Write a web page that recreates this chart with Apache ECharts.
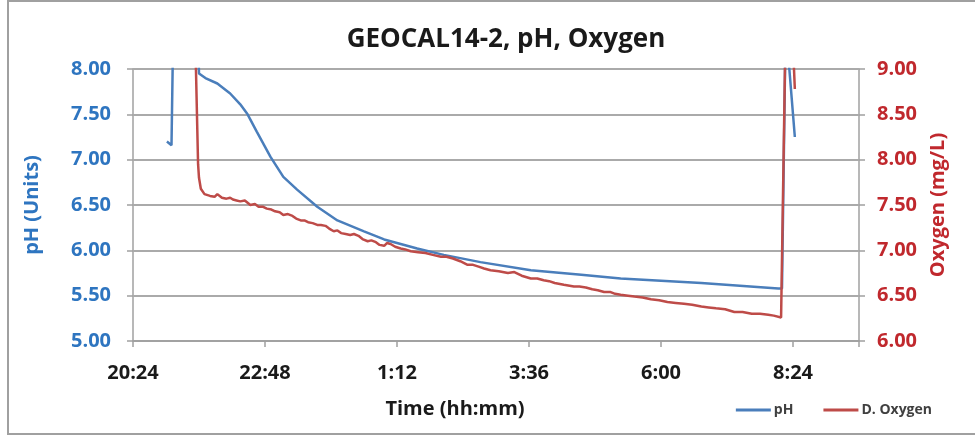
<!DOCTYPE html>
<html>
<head>
<meta charset="utf-8">
<script src="https://cdn.jsdelivr.net/npm/echarts@6/dist/echarts.min.js"></script>
<style>
html,body{margin:0;padding:0;background:#fff}
#wrap{position:relative;width:975px;height:439px}
#c{width:975px;height:439px}
#frame{position:absolute;left:7px;top:0;width:980px;height:435px;border:2px solid #a0a0a0;box-sizing:border-box;pointer-events:none}
</style>
</head>
<body>
<div id="wrap"><div id="c"></div><div id="frame"></div></div>
<script>
// pH series: clock time and value
const phTimes = ["21:01","21:06","21:07","21:09","21:33","21:36","21:43","21:56","22:10","22:21","22:29","22:39","22:54","23:08","23:23","23:45","0:07","0:36","0:58","1:34","2:03","2:43","3:38","4:33","5:16","6:44","8:08","8:12","8:16","8:26"];
const phValues = [7.20,7.16,7.18,9.2,9.2,7.95,7.90,7.84,7.73,7.61,7.50,7.31,7.03,6.81,6.67,6.48,6.33,6.21,6.12,6.02,5.95,5.87,5.78,5.73,5.69,5.64,5.58,5.58,8.5,7.25];

// Dissolved oxygen series: clock time and value (mg/L)
const doTimes = ["21:30","21:32","21:35","21:36","21:38","21:42","21:48","21:53","21:56","22:01","22:06","22:10","22:13","22:17","22:21","22:26","22:32","22:37","22:41","22:46","22:50","22:55","22:59","23:04","23:08","23:13","23:18","23:22","23:27","23:31","23:35","23:40","23:45","23:49","23:54","23:58","0:03","0:07","0:11","0:16","0:21","0:25","0:30","0:35","0:40","0:44","0:49","0:53","0:58","1:01","1:05","1:10","1:16","1:21","1:27","1:35","1:43","1:51","2:00","2:06","2:13","2:21","2:29","2:35","2:41","2:47","2:54","3:03","3:13","3:20","3:28","3:38","3:45","3:52","3:58","4:04","4:14","4:25","4:31","4:38","4:45","4:51","4:58","5:05","5:10","5:16","5:24","5:31","5:40","5:49","5:58","6:07","6:16","6:25","6:34","6:44","6:52","7:00","7:02","7:10","7:20","7:29","7:39","7:48","7:57","8:03","8:11","8:12","8:16","8:23","8:26"];
const doValues = [9.6,9.3,7.95,7.80,7.68,7.62,7.60,7.59,7.62,7.58,7.57,7.58,7.56,7.55,7.54,7.55,7.50,7.51,7.48,7.48,7.46,7.45,7.43,7.42,7.39,7.40,7.38,7.35,7.33,7.33,7.31,7.30,7.28,7.28,7.27,7.24,7.21,7.22,7.19,7.18,7.17,7.18,7.16,7.12,7.10,7.11,7.09,7.06,7.05,7.08,7.07,7.04,7.02,7.01,6.99,6.98,6.97,6.95,6.93,6.93,6.91,6.88,6.84,6.84,6.82,6.80,6.78,6.77,6.75,6.76,6.72,6.69,6.69,6.67,6.66,6.64,6.62,6.60,6.60,6.59,6.57,6.56,6.54,6.54,6.52,6.51,6.50,6.49,6.48,6.46,6.45,6.43,6.42,6.41,6.40,6.38,6.37,6.36,6.38,6.35,6.32,6.32,6.30,6.30,6.29,6.28,6.26,6.27,9.5,9.5,8.78];

// Axis ranges (minutes after 20:24; ticks every 2:24)
const xMin = 0, xMax = 792, xStep = 144;
const phMin = 5, phMax = 8, doMin = 6, doMax = 9, yStep = 0.5;
const phGrid = [5.5, 6, 6.5, 7, 7.5, 8];

const START = 20*60 + 24; // 20:24
function toMin(s){
  const [h,m] = s.split(":").map(Number);
  let t = h*60 + m;
  if (h < 12) t += 1440;
  return t - START;
}
function fmt(v){
  let t = (v + START) % 1440;
  const h = Math.floor(t/60), m = Math.round(t%60);
  return h + ":" + (m<10?"0":"") + m;
}
const phData = phTimes.map((t,i)=>[toMin(t), phValues[i]]);
const doData = doTimes.map((t,i)=>[toMin(t), doValues[i]]);

const BLUE = "#4a7ebb", RED = "#be4b48", GRID = "#aaaaaa";
const font = "'Open Sans', 'Noto Sans', sans-serif";

const chart = echarts.init(document.getElementById('c'), null, {renderer:'canvas'});
chart.setOption({
  animation:false,
  backgroundColor:'#fff',
  title:{
    text:"GEOCAL14-2, pH, Oxygen", left:501, textAlign:'center', top:22,
    textStyle:{fontFamily:font, fontSize:26, fontWeight:'bold', color:'#1a1a1a'}
  },
  legend:{
    right:38, top:398, itemGap:30, itemWidth:35, itemHeight:3, icon:'rect',
    textStyle:{fontFamily:font, fontSize:14, fontWeight:'bold', color:'#404040', padding:[0,0,0,-2]},
    data:[{name:'pH'},{name:'D. Oxygen'}]
  },
  grid:{left:133, right:116, top:69, bottom:98},
  xAxis:{
    type:'value', min:xMin, max:xMax, interval:xStep,
    name:"Time (hh:mm)", nameLocation:'middle', nameGap:58,
    nameTextStyle:{fontFamily:font, fontSize:20, fontWeight:'bold', color:'#1a1a1a', padding:[0,82,0,0]},
    axisLine:{show:true, lineStyle:{color:'#a0a0a0', width:1.5}},
    axisTick:{show:true, length:6, lineStyle:{color:'#a0a0a0', width:1.5}},
    axisLabel:{formatter:(v)=> v>=xMax?"":fmt(v), margin:22, fontFamily:font, fontSize:20, fontWeight:'bold', color:'#1a1a1a'},
    splitLine:{show:false}
  },
  yAxis:[{
    type:'value', min:phMin, max:phMax, interval:yStep, position:'left',
    name:"pH (Units)", nameLocation:'middle', nameGap:91, nameRotate:90,
    nameTextStyle:{fontFamily:font, fontSize:20, fontWeight:'bold', color:'#2e75c0'},
    axisLine:{show:true, lineStyle:{color:'#a0a0a0', width:1.5}},
    axisTick:{show:true, length:6, lineStyle:{color:'#a0a0a0', width:1.5}},
    axisLabel:{formatter:(v)=>v.toFixed(2), margin:22, fontFamily:font, fontSize:20, fontWeight:'bold', color:'#2e75c0'},
    splitLine:{show:true, lineStyle:{color:GRID, width:2}}
  },{
    type:'value', min:doMin, max:doMax, interval:yStep, position:'right',
    name:"Oxygen (mg/L)", nameLocation:'middle', nameGap:68, nameRotate:90,
    nameTextStyle:{fontFamily:font, fontSize:20, fontWeight:'bold', color:'#c0282d'},
    axisLine:{show:true, lineStyle:{color:'#a0a0a0', width:1.5}},
    axisTick:{show:true, length:6, lineStyle:{color:'#a0a0a0', width:1.5}},
    axisLabel:{formatter:(v)=>v.toFixed(2), margin:18, fontFamily:font, fontSize:20, fontWeight:'bold', color:'#c0282d'},
    splitLine:{show:false}
  }],
  series:[{
    name:'pH', type:'line', yAxisIndex:0, data:phData, showSymbol:false, symbol:'none',
    lineStyle:{color:BLUE, width:2.5}, itemStyle:{color:BLUE}, clip:true, z:3,
    markLine:{silent:true, symbol:['none','none'], label:{show:false}, z:1,
      lineStyle:{color:GRID, width:2, type:'solid'},
      emphasis:{disabled:true},
      data:phGrid.map(v=>({yAxis:v}))}
  },{
    name:'D. Oxygen', type:'line', yAxisIndex:1, data:doData, showSymbol:false, symbol:'none',
    lineStyle:{color:RED, width:2.5}, itemStyle:{color:RED}, clip:true, z:4
  }]
});
</script>
</body>
</html>
